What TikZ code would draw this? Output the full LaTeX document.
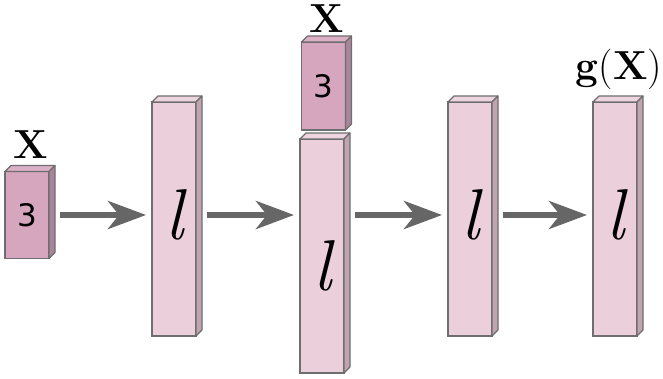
\documentclass[tikz,border=0pt]{standalone}
\usepackage{fontspec}
\newfontfamily\digitfont{DejaVu Sans}
\usetikzlibrary{arrows.meta}
\definecolor{edgec}{HTML}{6E6E6E}
\definecolor{arrowc}{HTML}{666666}
\definecolor{smallfront}{HTML}{D6A6BF}
\definecolor{smalltop}{HTML}{DBB0C6}
\definecolor{smallside}{HTML}{A9849A}
\definecolor{bigfront}{HTML}{EBD0DC}
\definecolor{bigtop}{HTML}{EDD5E0}
\definecolor{bigside}{HTML}{C0A5B1}
\tikzset{
  boxbase/.style={draw=edgec, line width=1.1pt, inner sep=0pt, outer sep=0pt},
  bigbox/.style={boxbase, fill=bigfront, minimum width=44pt, minimum height=234pt},
  smallbox/.style={boxbase, fill=smallfront, minimum width=44pt, minimum height=87pt},
  flow/.style={draw=arrowc, line width=6pt, -{Stealth[length=38pt, width=28pt, inset=11pt]}, shorten <=11pt, shorten >=6pt},
  lbl/.style={font=\fontsize{60}{60}\selectfont\itshape, inner sep=0pt, scale=1.2},
  num/.style={font=\digitfont\fontsize{31}{31}\selectfont, inner sep=0pt},
  head/.style={font=\fontsize{35}{35}\selectfont, inner sep=0pt, scale=1.16}
}
\newcommand\cubedepth[3]{%
  \filldraw[fill=#2, draw=edgec, line width=1.1pt, line join=round]
    (#1.north west) -- ++(6,-6) -- ([shift={(6,-6)}]#1.north east) -- (#1.north east) -- cycle;
  \filldraw[fill=#3, draw=edgec, line width=1.1pt, line join=round]
    (#1.north east) -- ++(6,-6) -- ([shift={(6,-6)}]#1.south east) -- (#1.south east) -- cycle;}
\begin{document}
\begin{tikzpicture}[x=1pt, y=-1pt]
\useasboundingbox (0,0) rectangle (663,379);
% boxes
\node[smallbox] (s1) at (27,215) {};
\cubedepth{s1}{smalltop}{smallside}
\node[bigbox] (b2) at (174,219) {};
\cubedepth{b2}{bigtop}{bigside}
\node[bigbox] (b3) at (322,256) {};
\cubedepth{b3}{bigtop}{bigside}
\node[smallbox, minimum height=88pt] (s3) at (323.5,86) {};
\cubedepth{s3}{smalltop}{smallside}
\node[bigbox] (b4) at (470,219) {};
\cubedepth{b4}{bigtop}{bigside}
\node[bigbox] (b5) at (615,219) {};
\cubedepth{b5}{bigtop}{bigside}
% inner texts
\node[num] (n1) at (s1.center) {3};
\node[num] (n3) at (s3.center) {3};
\node[lbl] (l2) at (174,215) {l};
\node[lbl] (l3) at (322,266) {l};
\node[lbl] (l4) at (470,215) {l};
\node[lbl] (l5) at (615,215) {l};
% headings
\node[head] (x1) at (31,145) {\textbf{X}};
\node[head] (x3) at (327,19) {\textbf{X}};
\node[head] (gx) at (619,69) {\textbf{g}(\textbf{X})};
% arrows
\draw[flow] (s1.east) -- (s1.east -| b2.west);
\draw[flow] ([yshift=4pt]b2.east) -- ([yshift=4pt]b2.east -| b3.west);
\draw[flow] ([yshift=4pt]b3.east |- b2.east) -- ([yshift=4pt]b4.west);
\draw[flow] ([yshift=4pt]b4.east) -- ([yshift=4pt]b5.west);
\end{tikzpicture}
\end{document}
